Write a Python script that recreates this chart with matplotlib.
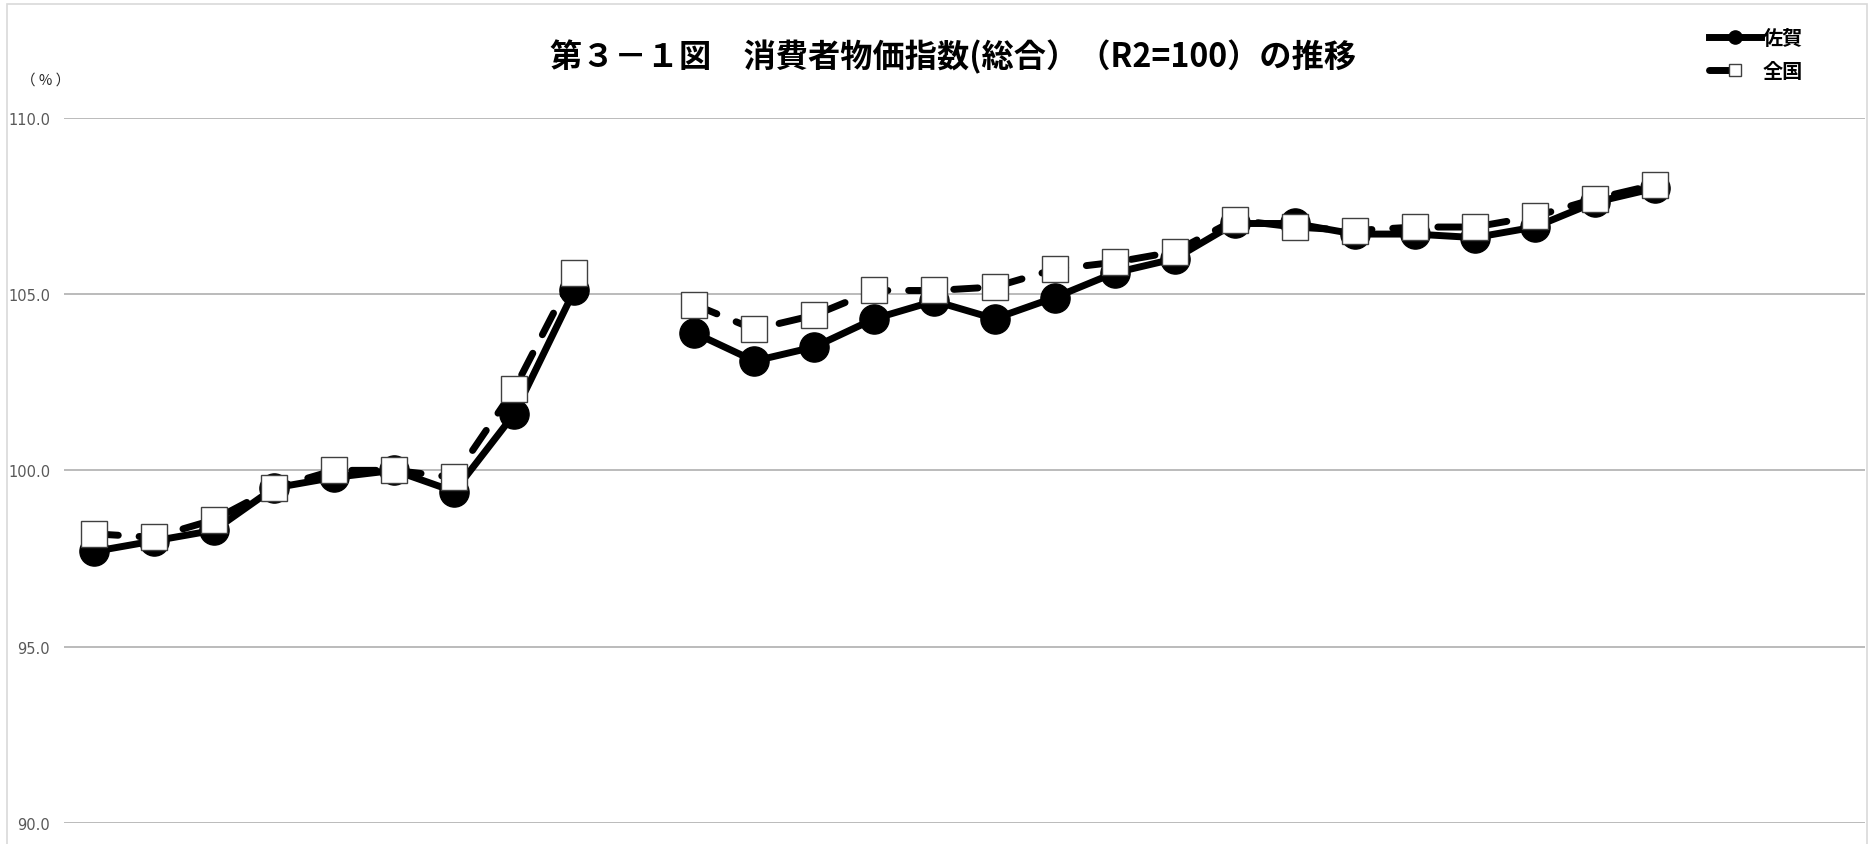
import numpy as np
import matplotlib
matplotlib.use("Agg")
import matplotlib.pyplot as plt
from matplotlib.lines import Line2D
from matplotlib.patches import Rectangle

plt.rcParams['font.family'] = ['Noto Sans CJK JP', 'DejaVu Sans']

# ---- data ----
n_categories = 30
saga = [97.7, 98.0, 98.3, 99.5, 99.8, 100.0, 99.4, 101.6, 105.1, None,
        103.9, 103.1, 103.5, 104.3, 104.8, 104.3, 104.9, 105.6, 106.0, 107.0,
        107.0, 106.7, 106.7, 106.6, 106.9, 107.6, 108.0, None, None, None]
zenkoku = [98.2, 98.1, 98.6, 99.5, 100.0, 100.0, 99.8, 102.3, 105.6, None,
           104.7, 104.0, 104.4, 105.1, 105.1, 105.2, 105.7, 105.9, 106.2, 107.1,
           106.9, 106.8, 106.9, 106.9, 107.2, 107.7, 108.1, None, None, None]
y_ticks = [90.0, 95.0, 100.0, 105.0, 110.0]
title = "第３－１図　消費者物価指数(総合）（R2=100）の推移"
series_names = ["佐賀", "全国"]
unit_label = "（ % ）"

x = np.arange(n_categories)
saga_v = np.array([np.nan if v is None else v for v in saga], dtype=float)
zen_v = np.array([np.nan if v is None else v for v in zenkoku], dtype=float)

W, H = 1872, 845
fig = plt.figure(figsize=(W / 100, H / 100), dpi=100)
fig.patch.set_facecolor("white")

# outer light border (chart area frame, cropped at bottom)
fig.patches.append(Rectangle((7 / W, -0.2), (1866.5 - 7) / W, 1.2 - 5 / H,
                             transform=fig.transFigure, fill=False,
                             edgecolor="#d9d9d9", linewidth=1.2, zorder=0))

left, right, top, bottom = 64, 1865, 118.7, 824
ax = fig.add_axes([left / W, (H - bottom) / H, (right - left) / W, (bottom - top) / H])
ax.set_xlim(-0.5, n_categories - 0.5)
ax.set_ylim(90, 110)
for s in ax.spines.values():
    s.set_visible(False)
ax.set_xticks([])
ax.set_yticks(y_ticks)
ax.set_yticklabels([f"{v:.1f}" for v in y_ticks], family="DejaVu Sans",
                   fontsize=10.5, color="#595959")
ax.tick_params(axis="y", length=0, pad=10)
ax.yaxis.grid(True, color="#b5b5b5", linewidth=1.3)
ax.set_axisbelow(True)

lw = 5
# 佐賀
ax.plot(x, saga_v, color="black", linewidth=lw, solid_capstyle="round",
        solid_joinstyle="round", marker="o", markersize=21,
        markerfacecolor="black", markeredgecolor="black", zorder=3, clip_on=False)
# 全国
ax.plot(x, zen_v, color="black", linewidth=lw, linestyle=(0, (3.5, 3.0)),
        dash_capstyle="round", zorder=4, clip_on=False)
ax.plot(x, zen_v, linestyle="none", marker="s", markersize=18.5,
        markerfacecolor="white", markeredgecolor="#404040", markeredgewidth=1.0,
        zorder=5, clip_on=False)

# title and unit label
fig.text(953 / W, 1 - 57 / H, title, ha="center", va="center",
         fontsize=23.2, fontweight="bold", color="black")
fig.text(46 / W, 1 - 81 / H, unit_label, ha="center", va="center",
         fontsize=10.5, color="#262626")

# legend
handles = [
    Line2D([], [], color="black", linewidth=5, marker="o", markersize=9.5,
           markerfacecolor="black", markeredgecolor="black"),
    Line2D([], [], color="black", linewidth=5, linestyle=(0, (3.5, 10)),
           dash_capstyle="round", marker="s", markersize=8.8,
           markerfacecolor="white", markeredgecolor="#404040", markeredgewidth=1.0),
]
leg = fig.legend(handles, series_names, loc="upper left",
                 bbox_to_anchor=(1709 / W, 1 - 28 / H), frameon=False,
                 prop={"family": ["Noto Sans CJK JP", "DejaVu Sans"],
                       "weight": "bold", "size": 14.5},
                 handlelength=2.6, handletextpad=0.05, labelspacing=0.6,
                 borderpad=0, borderaxespad=0)

fig.savefig("out.png", dpi=100, facecolor="white")
